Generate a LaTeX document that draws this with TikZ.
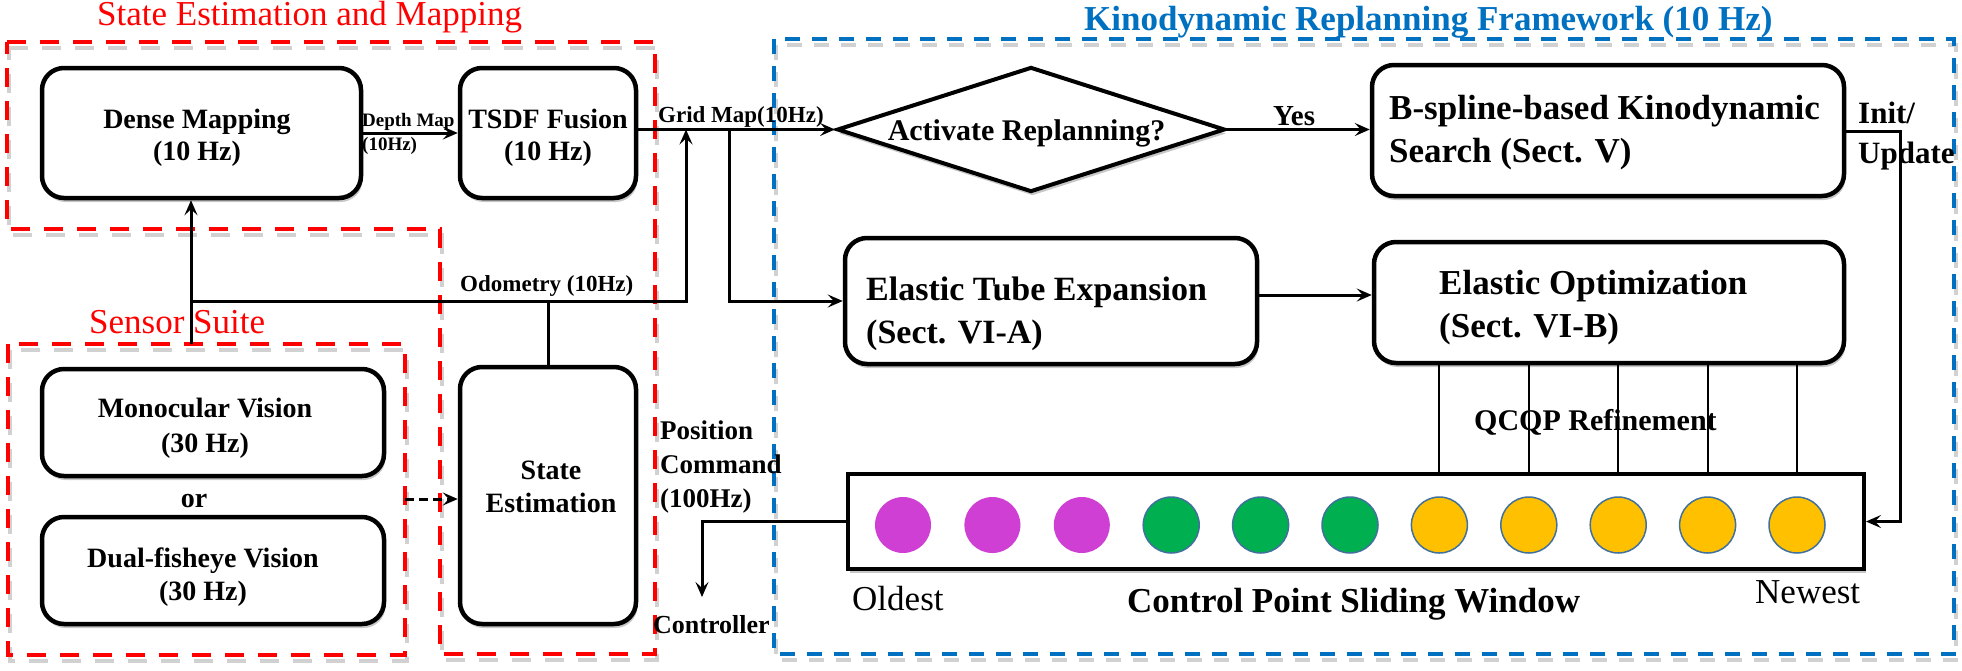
\documentclass[tikz,border=0pt]{standalone}
\usepackage{fontspec}
\setmainfont{Liberation Serif}
\usetikzlibrary{arrows.meta,shapes.geometric,shadows,calc}
\definecolor{sred}{RGB}{255,0,0}
\definecolor{kblue}{RGB}{0,112,192}
\definecolor{cmag}{RGB}{207,63,211}
\definecolor{cgreen}{RGB}{0,176,80}
\definecolor{cyel}{RGB}{255,192,0}
\definecolor{cedge}{RGB}{65,113,156}
\begin{document}
\begin{tikzpicture}[x=1pt,y=-1pt,
  box/.style={draw, line width=4.5pt, rounded corners=22pt, fill=white, inner sep=0pt,
    drop shadow={shadow xshift=1.5pt, shadow yshift=-4pt, opacity=0.22, fill=black}},
  winbox/.style={draw, line width=4pt, fill=white, inner sep=0pt,
    drop shadow={shadow xshift=1.5pt, shadow yshift=-4pt, opacity=0.22, fill=black}},
  arr/.style={line width=3pt, -{Stealth[length=15pt,width=13pt,inset=6pt]}},
  tb/.style n args={2}{inner sep=0pt, font=\bfseries\fontsize{#1}{#2}\selectfont},
  tr/.style n args={2}{inner sep=0pt, font=\fontsize{#1}{#2}\selectfont},
  redframe/.style={draw=sred, line width=4.7pt, dash pattern=on 19pt off 14pt},
  blueframe/.style={draw=kblue, line width=4pt, dash pattern=on 15pt off 12pt},
  frameshadow/.style={draw=black, opacity=0.18, shift={(2,6)}},
  pm/.style={circle, fill=cmag, inner sep=0pt, minimum size=56pt},
  pg/.style={circle, fill=cgreen, draw=cedge, line width=1.5pt, inner sep=0pt, minimum size=56pt},
  py/.style={circle, fill=cyel, draw=cedge, line width=1.5pt, inner sep=0pt, minimum size=56pt}
]
\useasboundingbox (0,0) rectangle (1962,670);

% ---------- dashed frames (with soft shadow) ----------
\draw[redframe, frameshadow] (7,42) -- (655,42) -- (655,654) -- (440,654) -- (440,229) -- (7,229) -- cycle;
\draw[redframe, frameshadow] (8,344) rectangle (405,655);
\draw[blueframe, frameshadow] (774,39) rectangle (1954,654);
\draw[redframe] (7,42) -- (655,42) -- (655,654) -- (440,654) -- (440,229) -- (7,229) -- cycle;
\draw[redframe] (8,344) rectangle (405,655);
\draw[blueframe] (774,39) rectangle (1954,654);

% ---------- titles ----------
\node[tr={35}{40}, text=sred, anchor=base west] (t1) at (97,25) {State Estimation and Mapping};
\node[tr={35}{40}, text=sred, anchor=base west] (t2) at (89,333) {Sensor Suite};
\node[tb={35}{40}, text=kblue, anchor=base west] (t3) at (1084,30) {Kinodynamic Replanning Framework (10 Hz)};

% ---------- boxes ----------
\node[box, minimum width=319pt, minimum height=130pt] (dense) at (201.5,133) {};
\node[box, minimum width=176pt, minimum height=130pt] (tsdf) at (548,133) {};
\node[box, minimum width=176pt, minimum height=257pt] (se) at (548,495.5) {};
\node[box, minimum width=342pt, minimum height=107pt] (mono) at (213,422.5) {};
\node[box, minimum width=342pt, minimum height=107pt] (dual) at (213,570.5) {};
\node[box, minimum width=472pt, minimum height=131pt] (bsp) at (1608,130.5) {};
\node[box, minimum width=412pt, minimum height=126pt] (tube) at (1051,301) {};
\node[box, minimum width=470pt, minimum height=121pt] (opt) at (1609,302.5) {};
\node[diamond, draw, line width=4pt, fill=white, minimum width=388pt, minimum height=125pt,
      inner sep=0pt, drop shadow={shadow xshift=1.5pt, shadow yshift=-4pt, opacity=0.22, fill=black}] (act) at (1031,129.5) {};
\node[winbox, minimum width=1016pt, minimum height=95pt] (win) at (1356,521.5) {};

% ---------- control points ----------
\foreach \i/\s in {1/pm,2/pm,3/pm,4/pg,5/pg,6/pg,7/py,8/py,9/py,10/py,11/py}
  \node[\s] (c\i) at ({903+89.4*(\i-1)},525) {};

% ---------- box texts ----------
\node[tb={28}{32}, align=center] (densetxt) at (197,137.3) {Dense Mapping\\(10 Hz)};
\node[tb={28}{32}, align=center] (tsdftxt) at (548,137.3) {TSDF Fusion\\(10 Hz)};
\node[tb={28}{35}, align=center] (monotxt) at (205,427.8) {Monocular Vision\\(30 Hz)};
\node[tb={28}{33}, align=center] (dualtxt) at (203,576.8) {Dual-fisheye Vision\\(30 Hz)};
\node[tb={28}{33}, align=center] (setxt) at (551,487) {State\\Estimation};
\node[tb={28}{33}, anchor=base] (ortxt) at (194,507) {or};
\node[tb={35}{43}, align=left, anchor=west] (bsptxt) at (1389,133) {B-spline-based Kinodynamic\\Search (Sect. V)};
\node[tb={34}{43}, align=left, anchor=west] (tubetxt) at (866,313.5) {Elastic Tube Expansion\\(Sect. VI-A)};
\node[tb={35}{43}, align=left, anchor=west] (opttxt) at (1439,308) {Elastic Optimization\\(Sect. VI-B)};
\node[tb={30}{34}, anchor=base] (acttxt) at (1026.5,140) {Activate Replanning?};

% ---------- connectors ----------
\draw[arr] (dense) -- (tsdf);
\coordinate (br) at (729,129.5);
\coordinate (gm) at (686,129.5);
\draw[arr] (tsdf.east |- act.west) -- (act.west);
\draw[arr] (br) |- (tube.west);
\coordinate (odoL) at (191,301);
\coordinate (odoR) at (686,301);
\coordinate (ssTop) at (191,344);
\draw[arr] (odoL) -- (odoR) -- (gm);
\draw[arr] (ssTop) -- (dense.south -| ssTop);
\draw[line width=3pt] (se.north) -- (se.north |- odoL);
\draw[arr] (act.east) -- (act.east -| bsp.west);
\coordinate (ta) at (1257,295);
\draw[arr] (ta) -- (ta -| opt.west);
\coordinate (iu) at (1900,131);
\draw[arr] (bsp.east |- iu) -- (iu) -- (iu |- win.east) -- (win.east);
\coordinate (ctrl) at (702,597);
\draw[arr] (win.west) -| (ctrl);
\coordinate (dstart) at (405,499);
\draw[arr, dashed, dash pattern=on 9pt off 5pt] (dstart) -- (dstart -| se.west);
\foreach \i in {7,...,11}
  \draw[line width=2pt] (c\i |- opt.south) -- (c\i |- win.north);

% ---------- connector labels ----------
\node[tb={19}{24}, align=left, anchor=west] (dmap) at (362,133.5) {Depth Map\\(10Hz)};
\node[tb={23}{28}, anchor=base west] (gmap) at (658,122.7) {Grid Map(10Hz)};
\node[tb={23}{28}, anchor=base west] (odo) at (460,291.7) {Odometry (10Hz)};
\node[tb={29}{34}, anchor=base west] (yes) at (1273,125) {Yes};
\node[tb={31}{40}, align=left, anchor=west] (init) at (1858,135.8) {Init/\\Update};
\node[tb={27}{34}, align=left, anchor=west] (pos) at (660,467.3) {Position\\Command\\(100Hz)};
\node[tb={26}{30}, anchor=base west] (ctrltxt) at (653,633) {Controller};
\node[tb={30}{34}, anchor=base west] (qcqp) at (1474,430) {QCQP Refinement};
\node[tr={35}{40}, anchor=base west] (oldest) at (852,610) {Oldest};
\node[tb={35}{40}, anchor=base west] (cpsw) at (1127,612) {Control Point Sliding Window};
\node[tr={35}{40}, anchor=base west] (newest) at (1755,603) {Newest};
\end{tikzpicture}
\end{document}
